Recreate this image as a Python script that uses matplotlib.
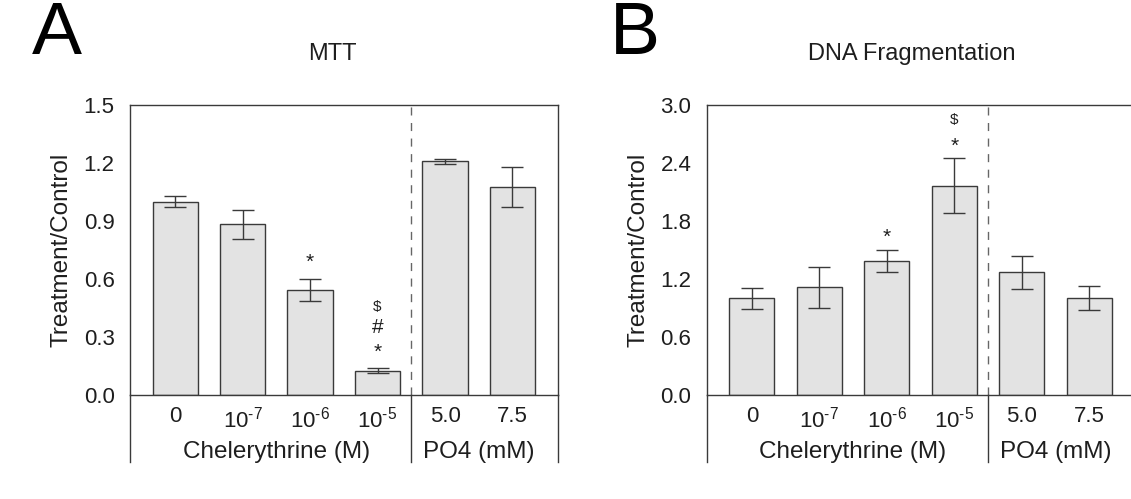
import matplotlib
matplotlib.use("Agg")
import matplotlib.pyplot as plt
import matplotlib.transforms as mtransforms

plt.rcParams["font.family"] = ["Liberation Sans", "DejaVu Sans"]
plt.rcParams["mathtext.fontset"] = "custom"
plt.rcParams["mathtext.rm"] = "Liberation Sans"
plt.rcParams["mathtext.it"] = "Liberation Sans:italic"

TICK_LABELS = ["0", "$\\mathregular{10^{\u20107}}$", "$\\mathregular{10^{\u20106}}$",
               "$\\mathregular{10^{\u20105}}$", "5.0", "7.5"]
GROUPS = ["Chelerythrine (M)", "PO4 (mM)"]

MTT_MEAN = [1.00, 0.882, 0.545, 0.126, 1.208, 1.075]
MTT_ERR = [0.027, 0.073, 0.057, 0.012, 0.011, 0.104]
MTT_MARKS = {2: ["*"], 3: ["*", "#", r"\$"]}

DNA_MEAN = [1.00, 1.115, 1.386, 2.166, 1.268, 1.002]
DNA_ERR = [0.112, 0.21, 0.118, 0.286, 0.167, 0.125]
DNA_MARKS = {2: ["*"], 3: ["*", r"\$"]}

EDGE = "#3a3a3a"
FILL = "#e3e3e3"
TXT = "#1e1e1e"
XLIM = (-0.67, 5.67)


def draw_panel(ax, means, errs, marks, ymax, yticks, mark_gap, mark_base):
    x = list(range(len(means)))
    ax.bar(x, means, width=0.67, color=FILL, edgecolor=EDGE, linewidth=1.0, zorder=2)
    ax.errorbar(x, means, yerr=errs, fmt="none", ecolor=EDGE, elinewidth=1.0,
                capsize=8.0, capthick=1.0, zorder=3)
    ax.set_xlim(*XLIM)
    ax.set_ylim(0, ymax)
    ax.set_yticks(yticks)
    ax.set_yticklabels([f"{t:.1f}" for t in yticks])
    ax.set_xticks(x)
    ax.set_xticklabels(TICK_LABELS)
    ax.tick_params(axis="both", length=0, labelsize=16, colors=TXT)
    ax.tick_params(axis="x", pad=8)
    ax.tick_params(axis="y", pad=11)
    for s in ax.spines.values():
        s.set_color(EDGE)
        s.set_linewidth(1.0)
    ax.axvline(3.5, color="#666666", linestyle=(0, (5.8, 5.4)), linewidth=1.0, zorder=1)
    ax.set_ylabel("Treatment/Control", fontsize=17.5, color=TXT, labelpad=8)

    # group lines under axis
    trans = mtransforms.blended_transform_factory(ax.transData, ax.transAxes)
    for xv in (XLIM[0], 3.5, XLIM[1]):
        ax.plot([xv, xv], [0, -0.23], transform=trans, color=EDGE, linewidth=1.0,
                clip_on=False)
    ax.text(1.5, -0.196, GROUPS[0], transform=trans, ha="center", va="center",
            fontsize=17.5, color=TXT)
    ax.text(4.5, -0.196, GROUPS[1], transform=trans, ha="center", va="center",
            fontsize=17.5, color=TXT)

    for i, syms in marks.items():
        top = means[i] + errs[i]
        for k, s in enumerate(syms):
            if s == r"\$":
                ax.text(i, top + mark_base + k * mark_gap, "$" + s + "$",
                        ha="center", va="center", fontsize=11, color=TXT)
            else:
                ax.text(i, top + mark_base + k * mark_gap - (0.012 * ymax if s == "*" else 0),
                        s, ha="center", va="center", fontsize=15, color=TXT)


fig = plt.figure(figsize=(11.31, 4.99), dpi=100)
ax_a = fig.add_axes([0.1149, 0.2084, 0.3782, 0.5812])
ax_b = fig.add_axes([0.6248, 0.2084, 0.3782, 0.5812])

draw_panel(ax_a, MTT_MEAN, MTT_ERR, MTT_MARKS, 1.5, [0.0, 0.3, 0.6, 0.9, 1.2, 1.5],
           0.11, 0.10)
draw_panel(ax_b, DNA_MEAN, DNA_ERR, DNA_MARKS, 3.0, [0.0, 0.6, 1.2, 1.8, 2.4, 3.0],
           0.24, 0.16)

fig.text(0.0504, 0.93, "A", fontsize=54, ha="center", va="center")
fig.text(0.561, 0.93, "B", fontsize=54, ha="center", va="center")
fig.text(0.294, 0.892, "MTT", fontsize=17, ha="center", va="center", color=TXT)
fig.text(0.806, 0.892, "DNA Fragmentation", fontsize=17, ha="center", va="center",
         color=TXT)

fig.savefig("out.png", dpi=100, facecolor="white")
